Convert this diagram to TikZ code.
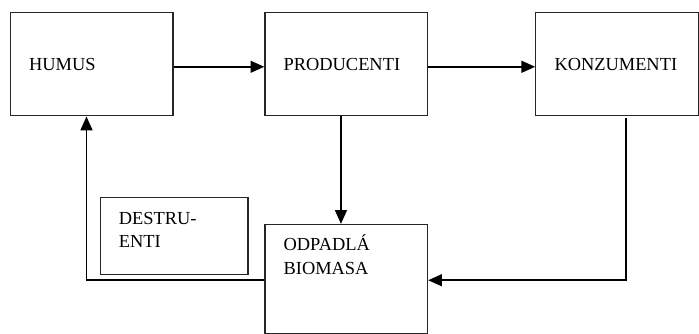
\documentclass[tikz,border=0pt]{standalone}
\usepackage{fontspec}
\setmainfont{Liberation Serif}
\usetikzlibrary{arrows.meta, positioning}
\tikzstyle{block} = [rectangle, draw=black!85, line width=0.9pt, minimum width=123.75pt, minimum height=78.75pt, align=left, text width=95.25pt, inner xsep=14.25pt, font=\fontsize{14}{18}\selectfont]
\tikzstyle{lowblock} = [rectangle, draw=black!85, line width=0.9pt, inner xsep=14.25pt, inner ysep=7.4pt, font=\fontsize{14}{18}\selectfont]
\tikzstyle{arrow} = [line width=1.4pt, -{Triangle[length=10.5pt, width=9pt]}]

\begin{document}
\begin{tikzpicture}
      % Horní řada
      \node[block] (humus) {HUMUS};
      \node[block, right=69pt of humus] (prod) {PRODUCENTI};
      \node[block, right=81.5pt of prod] (konz) {KONZUMENTI};

      % Spodní řada
      \node[lowblock, below=81.75pt of prod] (odpad) {\parbox[c][68pt][t]{95.25pt}{\strut ODPADLÁ\\BIOMASA}};
      \node[lowblock, anchor=north east] (destr) at ([xshift=-12pt, yshift=20.25pt]odpad.north west) {\parbox[c][43.7pt][t]{84pt}{\strut DESTRU-\\ENTI}};

      % Šipky
      \draw[arrow] ([yshift=-2pt]humus.east) -- ([yshift=-2pt]prod.west);
      \draw[arrow] ([yshift=-2pt]prod.east) -- ([yshift=-2pt]konz.west);
      \draw[arrow] ([xshift=-4pt]prod.south) -- ([xshift=-4pt]odpad.north);
      \draw[arrow] ([xshift=7pt, yshift=-1.5pt]konz.south) |- ([yshift=-1pt]odpad.west -| odpad.east);
      \draw[arrow] ([yshift=-1pt]odpad.west) -| ([xshift=-4pt]humus.south);

      \useasboundingbox ([xshift=-7.5pt, yshift=9pt]humus.north west) rectangle +(524.25pt, -246.75pt);
\end{tikzpicture}
\end{document}
